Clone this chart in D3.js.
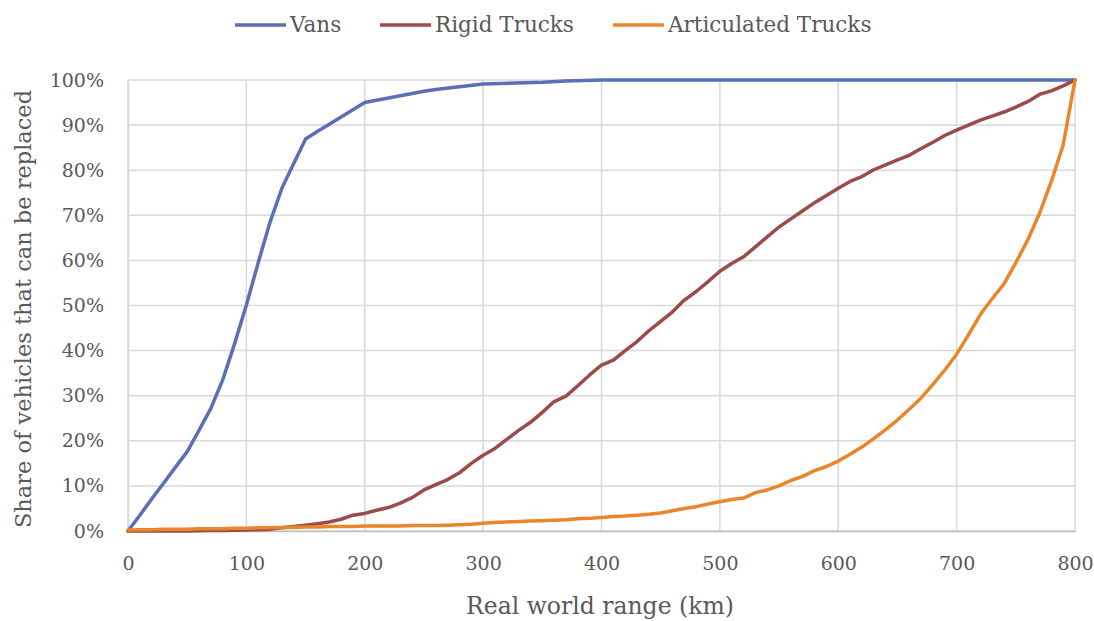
<!DOCTYPE html>
<html>
<head>
<meta charset="utf-8">
<script src="https://cdn.jsdelivr.net/npm/d3@7"></script>
<style>
  html, body { margin: 0; padding: 0; background: #fff; }
  svg text { font-family: "DejaVu Serif", "Liberation Serif", serif; fill: #595959; }
</style>
</head>
<body>
<svg id="chart" width="1094" height="621"></svg>
<script>
// ---- Data ----
const seriesNames = ["Vans", "Rigid Trucks", "Articulated Trucks"];
const seriesColors = ["#5B6FB6", "#9C4A4A", "#E9862A"];

const vansRange = [0,10,20,30,40,50,60,70,80,90,100,110,120,130,140,150,160,170,180,190,200,220,240,250,260,280,300,350,370,400,800];
const vansShare = [0,3.5,7.1,10.6,14.1,17.6,22.3,27.2,33.5,41.5,50.1,59.5,68.5,76,81.5,86.9,88.6,90.2,91.8,93.4,95,96,97,97.5,97.9,98.5,99.1,99.5,99.8,100,100];

const trucksRange = [0,10,20,30,40,50,60,70,80,90,100,110,120,130,140,150,160,170,180,190,200,210,220,230,240,250,260,270,280,290,300,310,320,330,340,350,360,370,380,390,400,410,420,430,440,450,460,470,480,490,500,510,520,530,540,550,560,570,580,590,600,610,620,630,640,650,660,670,680,690,700,710,720,730,740,750,760,770,780,790,800];
const rigidShare = [0,0,0,0,0,0,0.05,0.1,0.1,0.15,0.2,0.3,0.4,0.7,1.0,1.3,1.6,2.0,2.6,3.5,3.9,4.6,5.2,6.2,7.4,9.1,10.3,11.4,12.9,15.0,16.8,18.3,20.3,22.3,24.1,26.3,28.7,29.9,32.2,34.6,36.8,37.9,40.0,42.0,44.4,46.5,48.6,51.2,53.1,55.3,57.6,59.3,60.8,63.0,65.2,67.4,69.2,71.0,72.8,74.4,76.0,77.5,78.6,80.1,81.2,82.3,83.3,84.8,86.2,87.7,88.9,90.0,91.1,92.0,92.9,94.0,95.2,96.8,97.6,98.7,100];
const articulatedShare = [0.2,0.3,0.3,0.4,0.4,0.4,0.5,0.5,0.5,0.6,0.6,0.7,0.7,0.8,0.8,0.9,0.9,1.0,1.0,1.0,1.1,1.1,1.1,1.1,1.2,1.2,1.2,1.3,1.4,1.5,1.7,1.9,2.0,2.1,2.2,2.3,2.4,2.5,2.7,2.8,3.0,3.2,3.3,3.5,3.7,4.0,4.5,5.0,5.4,6.0,6.5,7.0,7.3,8.5,9.1,10.0,11.2,12.1,13.4,14.3,15.5,17.0,18.6,20.5,22.5,24.6,27.0,29.5,32.5,35.7,39.2,43.5,48.0,51.5,54.8,59.5,64.5,70.4,77.5,85.6,100];

const xTicks = [0,100,200,300,400,500,600,700,800];
const yTicks = [0,10,20,30,40,50,60,70,80,90,100];
const xTitle = "Real world range (km)";
const yTitle = "Share of vehicles that can be replaced";

// ---- Layout ----
const svg = d3.select("#chart");
const margin = { left: 128, right: 19, top: 80, bottom: 90 };
const W = 1094, H = 621;
const x = d3.scaleLinear().domain([0, 800]).range([margin.left, W - margin.right]);
const y = d3.scaleLinear().domain([0, 100]).range([H - margin.bottom, margin.top]);

// gridlines
const grid = svg.append("g");
grid.selectAll("line.h").data(yTicks).join("line")
  .attr("x1", x(0)).attr("x2", x(800))
  .attr("y1", d => y(d)).attr("y2", d => y(d))
  .attr("stroke", "#d9d9d9").attr("stroke-width", 1.5);
grid.selectAll("line.v").data(xTicks).join("line")
  .attr("y1", y(0)).attr("y2", y(100))
  .attr("x1", d => x(d)).attr("x2", d => x(d))
  .attr("stroke", "#d9d9d9").attr("stroke-width", 1.5);

// axes
const xAxis = svg.append("g").attr("transform", `translate(0,${y(0)})`)
  .call(d3.axisBottom(x).tickValues(xTicks).tickSize(0).tickPadding(26).tickFormat(d3.format("d")));
xAxis.select(".domain").attr("stroke", "#bfbfbf").attr("stroke-width", 1.5);
xAxis.selectAll("text").style("font-size", "19px").attr("fill", "#595959");

const yAxis = svg.append("g").attr("transform", `translate(${x(0)},0)`)
  .call(d3.axisLeft(y).tickValues(yTicks).tickSize(0).tickPadding(24).tickFormat(d => d + "%"));
yAxis.select(".domain").attr("stroke", "#d9d9d9").attr("stroke-width", 1.5);
yAxis.selectAll("text").style("font-size", "19px").attr("fill", "#595959");

// lines
const seriesData = [
  vansRange.map((r, i) => [r, vansShare[i]]),
  trucksRange.map((r, i) => [r, rigidShare[i]]),
  trucksRange.map((r, i) => [r, articulatedShare[i]])
];
const line = d3.line().x(d => x(d[0])).y(d => y(d[1]));
svg.append("g").selectAll("path").data(seriesData).join("path")
  .attr("d", line)
  .attr("fill", "none")
  .attr("stroke", (d, i) => seriesColors[i])
  .attr("stroke-width", 3.5)
  .attr("stroke-linejoin", "round")
  .attr("stroke-linecap", "round");

// axis titles
svg.append("text").attr("x", 600).attr("y", 614)
  .attr("text-anchor", "middle").style("font-size", "23.5px").text(xTitle);
svg.append("text").attr("transform", `translate(31,309) rotate(-90)`)
  .attr("text-anchor", "middle").style("font-size", "22.5px").text(yTitle);

// legend
const legendX = [235, 380, 613];
const lg = svg.append("g");
seriesNames.forEach((name, i) => {
  lg.append("line").attr("x1", legendX[i]).attr("x2", legendX[i] + 51)
    .attr("y1", 25).attr("y2", 25)
    .attr("stroke", seriesColors[i]).attr("stroke-width", 3.5);
  lg.append("text").attr("x", legendX[i] + 55).attr("y", 32)
    .style("font-size", "21.5px").text(name);
});
</script>
</body>
</html>
